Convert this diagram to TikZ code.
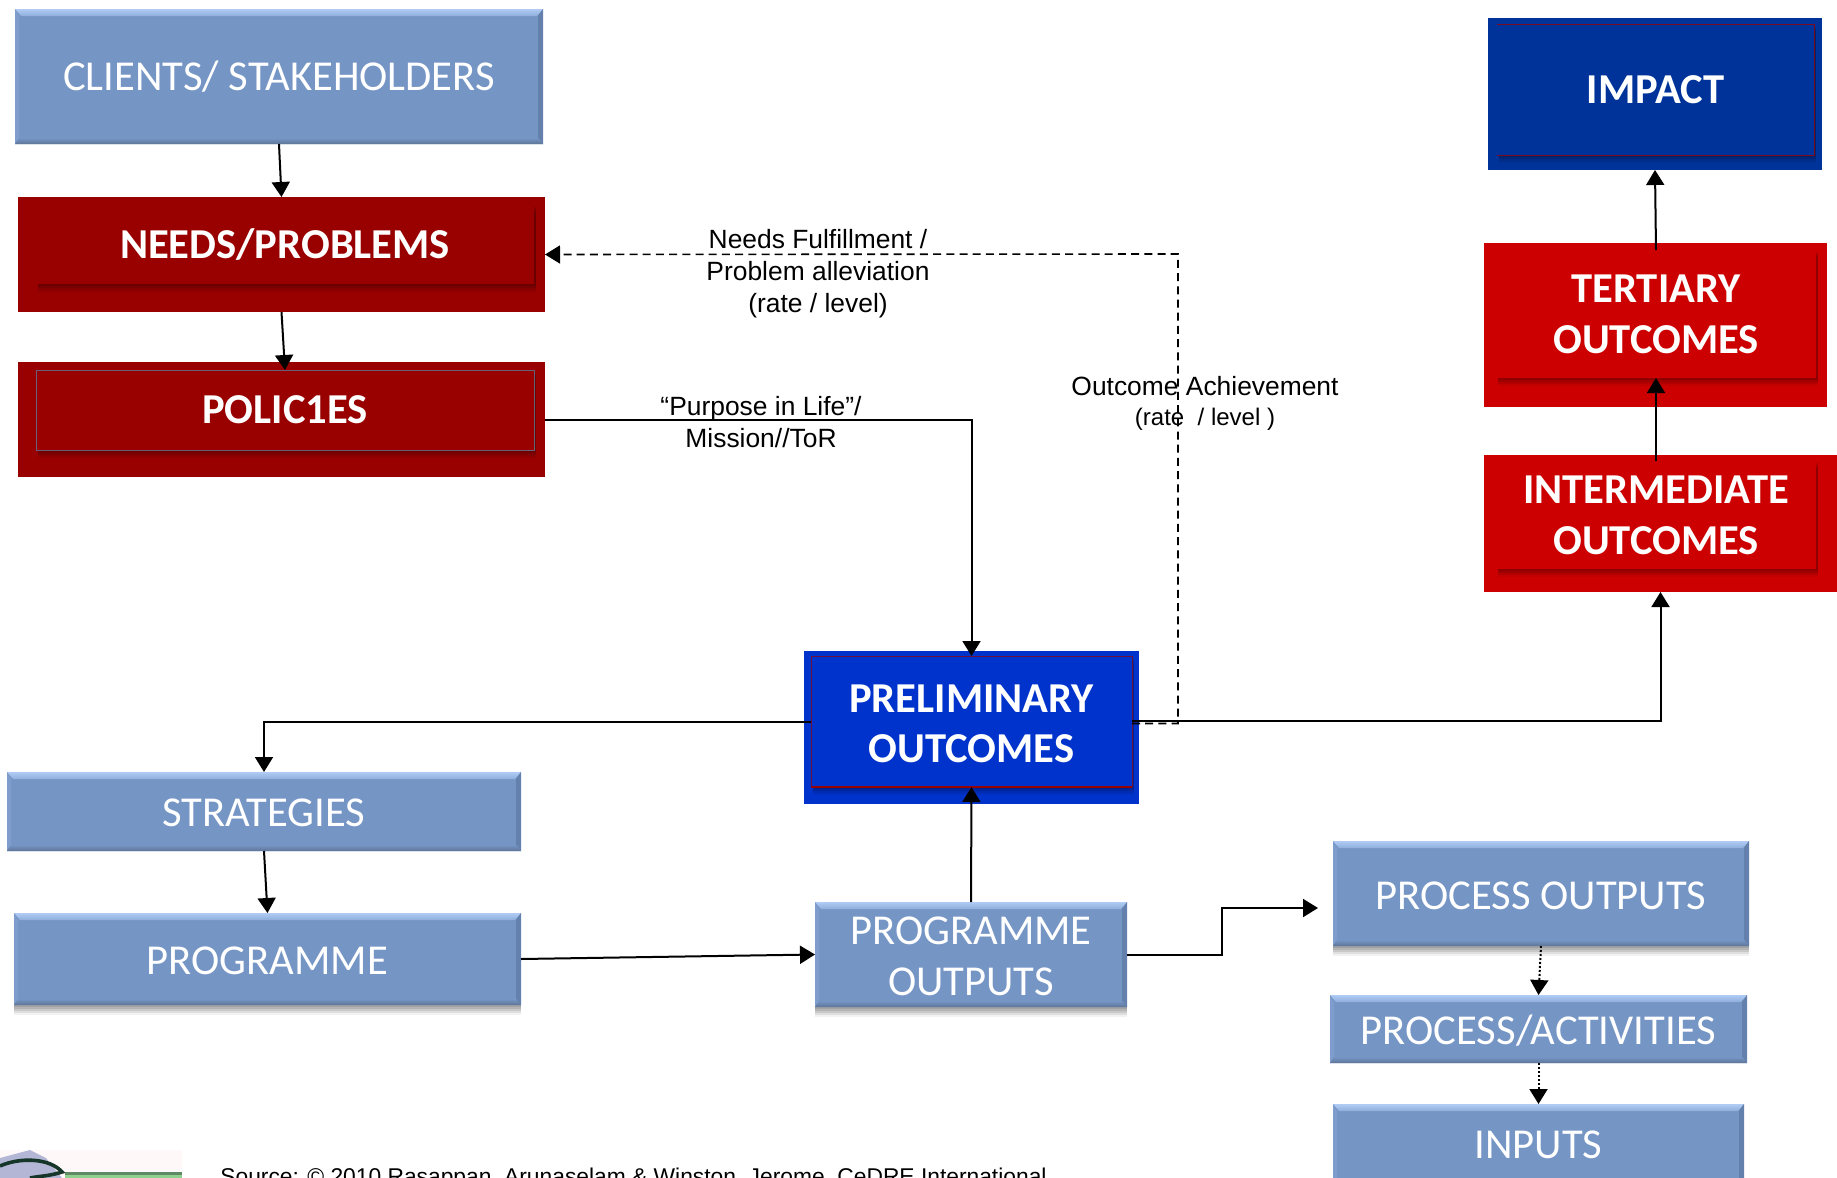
\documentclass[tikz,border=0pt]{standalone}
\usepackage{fontspec}
\setmainfont{Carlito}
\newfontfamily\arialf{Liberation Sans}
\usetikzlibrary{arrows.meta,calc}
\definecolor{steel}{HTML}{7595C5}
\definecolor{steeltop}{HTML}{B0CCF5}
\definecolor{steelside}{HTML}{6480AC}
\definecolor{steelbot}{HTML}{5E7496}
\definecolor{maroon}{HTML}{990000}
\definecolor{brightred}{HTML}{CC0000}
\definecolor{navyb}{HTML}{003399}
\definecolor{royalb}{HTML}{0033CC}
\definecolor{logobg}{HTML}{FFF8F8}
\definecolor{logogreen}{HTML}{5F8A63}
\definecolor{logolight}{HTML}{8FD08F}
\definecolor{logoglobe}{HTML}{B4B6D6}
\definecolor{logodark}{HTML}{16362A}
\newcommand\pxbox[7]{%
  \pgfmathsetmacro\bw{(#4-#2)/2}%
  \pgfmathsetmacro\bh{(#5-#3)/2}%
  \node[#6,minimum width=\bw pt,minimum height=\bh pt] (#1) at ({(#2+#4)/2},{(#3+#5)/2}) {#7};%
}
\newcommand\dn[2]{\raisebox{-#1pt}[\height][\depth]{#2}}
\tikzset{
  x=0.5pt,y=-0.5pt,
  boxbase/.style={rectangle,inner sep=0pt,outer sep=0pt,align=center,text=white},
  bevel/.style={boxbase,fill=steel,font=\fontsize{21.3}{25.3}\selectfont,
    path picture={
      \coordinate (bnw) at (path picture bounding box.north west);
      \coordinate (bne) at (path picture bounding box.north east);
      \coordinate (bsw) at (path picture bounding box.south west);
      \coordinate (bse) at (path picture bounding box.south east);
      \fill[top color=steeltop,bottom color=steel!55!steeltop] (bnw) -- (bne) -- ([shift={(-3pt,-3.5pt)}]bne) -- ([shift={(3pt,-3.5pt)}]bnw) -- cycle;
      \fill[steelside] (bne) -- (bse) -- ([shift={(-2.5pt,3pt)}]bse) -- ([shift={(-2.5pt,-3.5pt)}]bne) -- cycle;
      \fill[steel!85!steeltop] (bnw) -- (bsw) -- ([shift={(2pt,3pt)}]bsw) -- ([shift={(2pt,-3.5pt)}]bnw) -- cycle;
      \fill[top color=steel,bottom color=steelbot] (bsw) -- (bse) -- ([shift={(-2.5pt,3pt)}]bse) -- ([shift={(2pt,3pt)}]bsw) -- cycle;
    }},
  softshadow/.style={
    preaction={fill=black,fill opacity=.09,transform canvas={yshift=-1pt}},
    preaction={fill=black,fill opacity=.10,transform canvas={yshift=-2pt}},
    preaction={fill=black,fill opacity=.10,transform canvas={yshift=-3pt}},
    preaction={fill=black,fill opacity=.08,transform canvas={yshift=-4pt}},
    preaction={fill=black,fill opacity=.05,transform canvas={yshift=-5pt}}},
  inshadow/.style={
    preaction={fill=black,fill opacity=.10,transform canvas={shift={(1pt,-1pt)}}},
    preaction={fill=black,fill opacity=.10,transform canvas={shift={(1pt,-2pt)}}},
    preaction={fill=black,fill opacity=.08,transform canvas={shift={(1pt,-3pt)}}},
    preaction={fill=black,fill opacity=.05,transform canvas={shift={(1pt,-4pt)}}}},
  redouter/.style={boxbase,fill=maroon},
  redinner/.style={boxbase,fill=maroon,inshadow,font=\fontsize{21.3}{25.3}\selectfont\bfseries},
  arrow/.style={-{Triangle[length=7.5pt,width=9pt]},line width=1pt,black},
  dashline/.style={arrow,dash pattern=on 4pt off 2.6pt,line width=.8pt},
  dotline/.style={arrow,dash pattern=on 1pt off 1pt,line width=1pt},
  lab/.style={font=\arialf\fontsize{13.2}{16}\selectfont,align=center,inner sep=0pt,text=black},
  lab2/.style={font=\arialf\fontsize{13.2}{15}\selectfont,align=center,inner sep=0pt,text=black},
}
\begin{document}
\begin{tikzpicture}
\clip (0,0) rectangle (1837,1178);
% boxes
\pxbox{cli}{15}{9}{543}{144}{bevel}{CLIENTS/ STAKEHOLDERS}
\pxbox{nee}{18}{197}{545}{312}{redouter}{}
\pxbox{neeI}{36}{205}{534}{284}{redinner}{NEEDS/PROBLEMS}
\pxbox{pol}{18}{362}{545}{477}{redouter}{}
\pxbox{polI}{36}{370}{534}{450}{redinner,draw=steelbot!80!maroon,line width=.4pt}{POLIC1ES}
\pxbox{imp}{1488}{18}{1822}{170}{boxbase,fill=navyb}{}
\pxbox{impI}{1497}{24}{1814}{155}{redinner,fill=navyb}{IMPACT}
\pxbox{ter}{1484}{243}{1827}{407}{boxbase,fill=brightred}{}
\pxbox{terI}{1496}{250}{1816}{378}{redinner,fill=brightred}{TERTIARY\\\dn{.3}{OUTCOMES}}
\pxbox{int}{1484}{455}{1837}{592}{boxbase,fill=brightred}{}
\pxbox{intI}{1496}{461}{1816}{569}{redinner,fill=brightred}{INTERMEDIATE\\\dn{.3}{OUTCOMES}}
\pxbox{pre}{804}{651}{1139}{804}{boxbase,fill=royalb}{}
\pxbox{preI}{811}{656}{1132}{787}{redinner,fill=royalb}{\dn{1.2}{PRELIMINARY}\\\dn{1.2}{OUTCOMES}}
\draw[maroon,line width=.8pt] (preI.south west) -- (preI.south east);
\draw[maroon!70!royalb,line width=.4pt] (preI.south west) -- (preI.north west) -- (preI.north east) -- (preI.south east);
\draw[maroon!80!navyb,line width=.5pt] (impI.north west) -- (impI.north east) -- (impI.south east) -- (impI.south west);
\pxbox{str}{7}{772}{521}{851}{bevel}{\dn{.6}{STRATEGIES}}
\pxbox{prg}{14}{913}{521}{1005}{bevel,softshadow}{\dn{1}{PROGRAMME}}
\pxbox{pou}{815}{902}{1127}{1007}{bevel,softshadow}{\dn{1}{PROGRAMME}\\\dn{1}{OUTPUTS}}
\pxbox{pro}{1333}{841}{1749}{946}{bevel,softshadow}{\dn{1}{PROCESS OUTPUTS}}
\pxbox{act}{1330}{995}{1747}{1063}{bevel}{\dn{1}{PROCESS/ACTIVITIES}}
\pxbox{inp}{1333}{1104}{1744}{1184}{bevel}{\dn{.5}{INPUTS}}
% connectors
\coordinate (proin) at (1318,908);
\draw[arrow] (cli.south) -- (nee.north);
\draw[arrow] (nee.south) -- (polI.north);
\draw[arrow] (pol.east) -| (preI.north);
\draw[dashline] ([yshift=-1pt]preI.east) -| (1178,254) -- (nee.east);
\draw[arrow] ([yshift=.5pt]preI.east) -| (int.south);
\draw[arrow] (preI.west) -| (str.north);
\draw[arrow] (str.south) -- (prg.north);
\draw[arrow] (prg.east) -- (pou.west);
\draw[arrow] (pou.north) -- (preI.south);
\draw[arrow] (pou.east) -- ++(95,0) |- (proin);
\draw[dotline] (pro.south) -- (act.north);
\draw[dotline] (act.south) -- (inp.north);
\draw[arrow] (terI.north) -- (imp.south);
\draw[arrow] (intI.north) -- (terI.south);
% labels
\node[lab] (l1) at (818,274) {Needs Fulfillment /\\Problem alleviation\\(rate / level)};
\node[lab] (l2) at (761,422) {“Purpose in Life”/\\Mission//ToR};
\node[lab2] (l3) at (1205,403) {Outcome Achievement\\{\fontsize{12}{15}\selectfont(rate\ \ / level )}};
% logo
\fill[logobg] (0,1150) rectangle (182,1178);
\fill[logoglobe] (30,1150) -- (46,1158) -- (62,1178) -- (0,1178) -- (0,1158) -- cycle;
\fill[logogreen] (65,1172) rectangle (182,1175);
\fill[logolight] (65,1175) rectangle (182,1178);
\draw[logodark,line width=1.8pt] (0,1166) .. controls (20,1157) and (50,1158) .. (62,1172) .. controls (50,1176) and (40,1176) .. (30,1178);
\node[font=\arialf\fontsize{11.4}{14}\selectfont,anchor=base west,inner sep=0pt,text=black] (src) at (220,1184) {Source: © 2010 Rasappan, Arunaselam \& Winston, Jerome, CeDRE International};
\end{tikzpicture}
\end{document}
